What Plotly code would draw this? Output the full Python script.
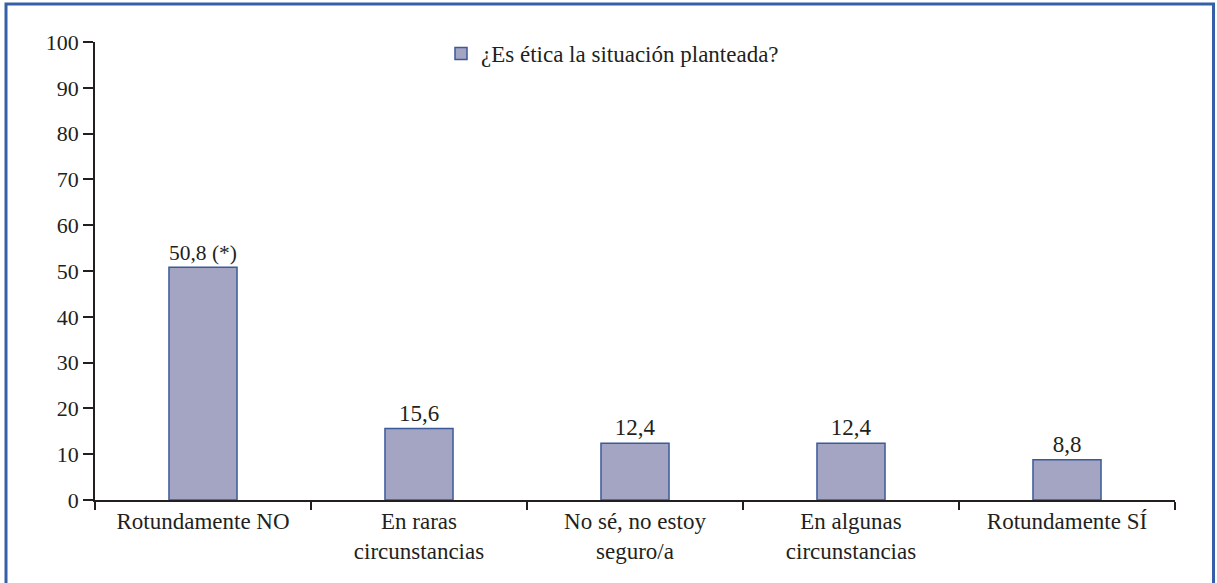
import plotly.graph_objects as go

# Survey answers and their percentages
categories = [
    "Rotundamente NO",
    "En raras<br>circunstancias",
    "No sé, no estoy<br>seguro/a",
    "En algunas<br>circunstancias",
    "Rotundamente SÍ",
]
values = [50.8, 15.6, 12.4, 12.4, 8.8]
value_labels = ["50,8 (*)", "15,6", "12,4", "12,4", "8,8"]
y_ticks = [0, 10, 20, 30, 40, 50, 60, 70, 80, 90, 100]
series_name = "¿Es ética la situación planteada?"

FONT = "Liberation Serif"
FS = 23        # category labels, legend, value labels
FS_NUM = 22    # y-axis numbers
TEXT_COLOR = "#231f20"

fig = go.Figure()
fig.add_trace(go.Bar(
    x=categories,
    y=values,
    name=series_name,
    text=value_labels,
    textposition="outside",
    cliponaxis=False,
    width=0.315,
    marker=dict(color="#a3a5c3", line=dict(color="#3b5a98", width=1.5)),
    textfont=dict(family=FONT, size=FS, color=TEXT_COLOR),
    showlegend=True,
))

# Outer blue frame around the whole figure (paper coords extend past plot area)
W, H = 1217, 583
ml, mr, mt, mb = 95, 42, 42, 83
pw, ph = W - ml - mr, H - mt - mb
def px_x(x):
    return (x - ml) / pw
def px_y(y):
    return (H - mb - y) / ph

fig.add_shape(
    type="rect", xref="paper", yref="paper",
    x0=px_x(6), x1=px_x(1213.5), y0=px_y(600), y1=px_y(4),
    line=dict(color="#3560a8", width=3), fillcolor="rgba(0,0,0,0)",
    layer="above",
)

fig.update_layout(
    width=W, height=H,
    margin=dict(l=ml, r=mr, t=mt, b=mb),
    paper_bgcolor="white",
    plot_bgcolor="white",
    font=dict(family=FONT, size=FS, color=TEXT_COLOR),
    showlegend=True,
    legend=dict(
        x=px_x(441), y=px_y(32), xanchor="left", yanchor="top",
        bgcolor="rgba(0,0,0,0)",
        font=dict(family=FONT, size=FS, color=TEXT_COLOR),
    ),
    bargap=0.685,
)

fig.update_xaxes(
    type="category",
    range=[-0.5, 4.5],
    showline=True, linecolor="#231f20", linewidth=1.5,
    ticks="outside", tickson="boundaries", ticklen=8, tickwidth=1.5,
    tickcolor="#231f20",
    showgrid=False, zeroline=False,
    tickfont=dict(family=FONT, size=FS, color=TEXT_COLOR),
)
fig.update_yaxes(
    range=[0, 100],
    tickvals=y_ticks,
    showline=True, linecolor="#231f20", linewidth=1.5,
    ticks="outside", ticklen=10, tickwidth=1.5, tickcolor="#231f20",
    showgrid=False, zeroline=False,
    tickfont=dict(family=FONT, size=FS_NUM, color=TEXT_COLOR),
)

fig.write_html("out.html")
